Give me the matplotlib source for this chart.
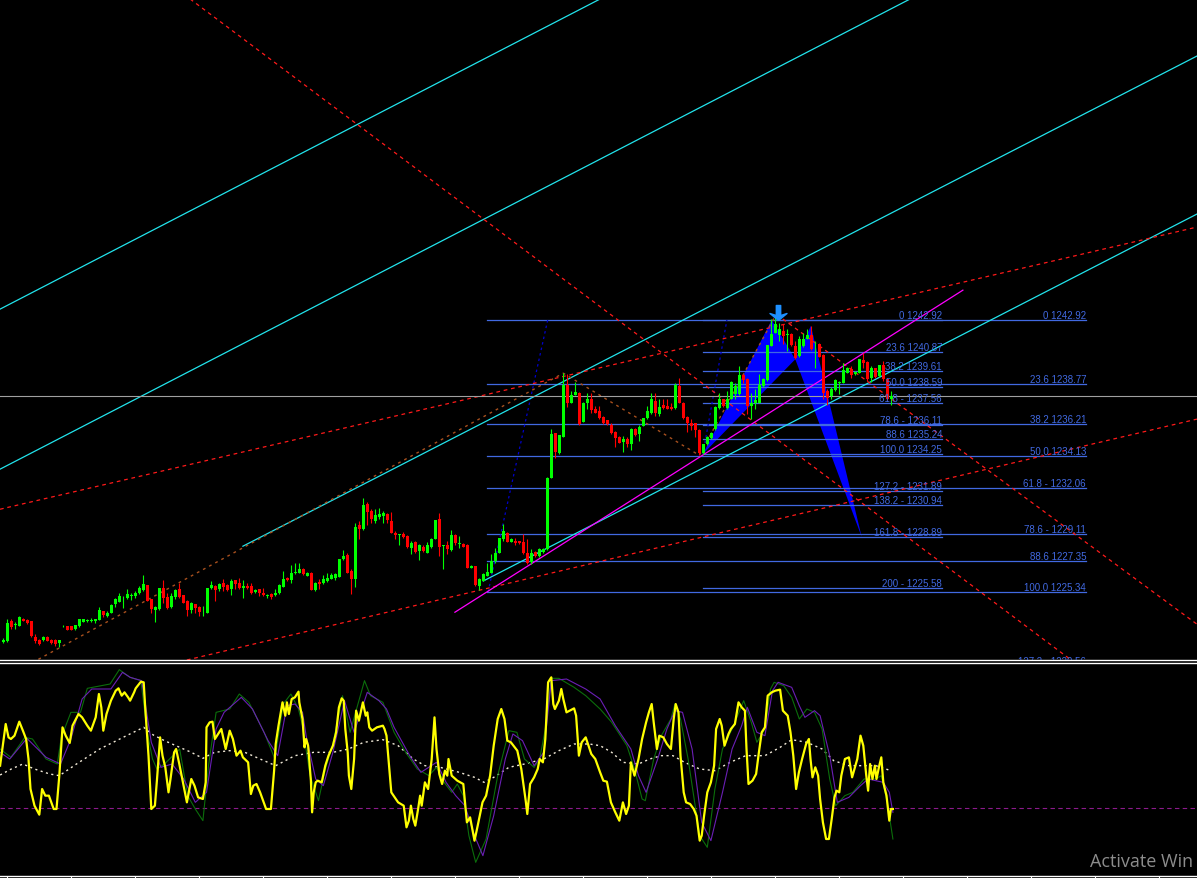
import numpy as np
import matplotlib
matplotlib.use('Agg')
import matplotlib.pyplot as plt
from matplotlib.path import Path

# ---- candle data (bar index = position from left) ----
opens = [1222.11, 1222.15, 1223.43, 1223.21, 1223.12, 1223.60, 1223.49, 1223.43, 1222.45, 1222.20,
         1222.22, 1222.45, 1222.24, 1222.20, 1222.00, 1223.10, 1223.10, 1223.10, 1222.91, 1223.12,
         1223.38, 1223.47, 1223.45, 1223.45, 1223.51, 1224.07, 1223.77, 1223.99, 1224.53, 1224.68,
         1224.98, 1224.96, 1225.09, 1225.07, 1225.24, 1225.46, 1225.76, 1224.85, 1224.16, 1224.20,
         1225.61, 1225.00, 1224.33, 1225.02, 1225.52, 1225.11, 1224.72, 1224.16, 1224.53, 1224.38,
         1224.07, 1223.99, 1225.56, 1225.74, 1225.50, 1225.93, 1225.76, 1225.50, 1226.08, 1225.93,
         1225.56, 1225.74, 1225.74, 1225.33, 1225.50, 1225.28, 1225.09, 1225.18, 1225.11, 1225.24,
         1225.67, 1226.26, 1226.08, 1226.56, 1226.58, 1226.84, 1226.36, 1226.58, 1225.46, 1225.98,
         1225.89, 1226.04, 1226.19, 1226.26, 1226.32, 1227.44, 1227.70, 1226.69, 1226.15, 1229.65,
         1229.39, 1231.01, 1230.58, 1229.93, 1230.19, 1230.25, 1230.36, 1229.93, 1229.17, 1229.00,
         1229.06, 1228.96, 1228.20, 1228.57, 1227.98, 1228.26, 1227.88, 1228.26, 1228.78, 1230.04,
         1228.29, 1228.35, 1228.03, 1228.99, 1228.45, 1228.45, 1228.40, 1226.89, 1227.00, 1225.70,
         1226.03, 1226.39, 1226.57, 1227.32, 1227.86, 1228.73, 1229.16, 1228.55, 1228.62, 1228.62,
         1228.58, 1227.82, 1227.26, 1227.91, 1227.65, 1227.91, 1228.08, 1232.72, 1235.59, 1234.30,
         1235.38, 1238.71, 1237.58, 1238.06, 1238.23, 1236.33, 1237.54, 1237.80, 1237.19, 1237.04,
         1236.67, 1236.44, 1236.13, 1235.70, 1235.38, 1235.03, 1235.21, 1234.88, 1235.85, 1235.53,
         1236.07, 1236.55, 1236.89, 1237.69, 1236.83, 1237.41, 1237.37, 1237.32, 1237.26, 1238.62,
         1237.58, 1236.67, 1236.24, 1236.24, 1235.81, 1234.30, 1234.88, 1235.26, 1235.85, 1237.25,
         1237.79, 1237.25, 1237.83, 1238.11, 1238.11, 1239.35, 1239.13, 1237.36, 1237.53, 1237.57,
         1238.65, 1239.04, 1241.25, 1242.11, 1241.94, 1242.22, 1241.98, 1242.00, 1241.25, 1240.60,
         1241.25, 1241.72, 1241.94, 1241.22, 1241.35, 1240.64, 1238.33, 1238.01, 1238.39, 1238.85,
         1238.87, 1239.52, 1239.78, 1239.41, 1239.52, 1240.34, 1240.21, 1239.19, 1239.84, 1239.30,
         1239.99, 1239.09, 1237.79]
highs = [1222.37, 1223.60, 1223.56, 1223.38, 1223.77, 1223.64, 1223.56, 1223.45, 1222.58, 1222.26,
         1222.48, 1222.48, 1222.30, 1222.30, 1222.22, 1223.19, 1223.12, 1223.12, 1223.19, 1223.58,
         1223.58, 1223.60, 1223.66, 1223.58, 1224.38, 1224.12, 1224.07, 1224.53, 1224.96, 1225.24,
         1225.07, 1225.50, 1225.26, 1225.39, 1225.72, 1226.41, 1225.78, 1224.87, 1224.42, 1225.59,
         1226.08, 1225.28, 1225.24, 1225.54, 1225.89, 1225.13, 1224.79, 1224.68, 1224.57, 1224.42,
         1224.42, 1225.59, 1226.02, 1225.78, 1225.93, 1226.19, 1225.82, 1226.15, 1226.10, 1226.23,
         1226.08, 1225.93, 1225.89, 1225.54, 1225.52, 1225.61, 1225.22, 1225.28, 1225.50, 1225.82,
         1226.69, 1226.32, 1227.06, 1227.23, 1227.23, 1226.90, 1226.60, 1226.60, 1225.98, 1226.15,
         1226.41, 1226.54, 1226.58, 1226.58, 1227.47, 1228.03, 1227.83, 1226.80, 1229.82, 1229.93,
         1231.44, 1231.12, 1230.68, 1230.68, 1230.79, 1230.58, 1230.42, 1230.53, 1229.28, 1229.06,
         1229.22, 1229.00, 1228.63, 1228.63, 1228.42, 1228.35, 1228.57, 1228.85, 1229.99, 1230.42,
         1228.35, 1228.63, 1229.37, 1229.05, 1228.94, 1228.51, 1228.45, 1227.08, 1227.02, 1226.24,
         1226.57, 1227.21, 1227.80, 1228.19, 1228.81, 1229.70, 1229.20, 1228.83, 1228.83, 1228.64,
         1229.11, 1228.73, 1228.08, 1227.97, 1228.19, 1228.16, 1232.79, 1235.85, 1235.62, 1235.51,
         1239.48, 1239.42, 1238.34, 1238.88, 1238.27, 1237.60, 1238.23, 1238.23, 1237.37, 1237.37,
         1236.72, 1236.46, 1236.29, 1235.75, 1235.40, 1235.42, 1235.38, 1235.96, 1235.96, 1236.13,
         1236.59, 1237.37, 1238.23, 1238.23, 1237.80, 1237.80, 1237.80, 1237.58, 1238.83, 1239.20,
         1237.63, 1236.72, 1236.50, 1236.29, 1235.85, 1234.93, 1235.42, 1235.67, 1237.36, 1238.22,
         1237.83, 1238.33, 1238.96, 1238.87, 1239.95, 1239.41, 1239.19, 1238.22, 1238.44, 1239.41,
         1239.19, 1241.33, 1242.97, 1243.19, 1242.71, 1242.65, 1242.33, 1242.11, 1241.57, 1241.89,
         1242.11, 1242.33, 1242.54, 1241.57, 1241.40, 1240.71, 1238.44, 1238.61, 1239.09, 1238.98,
         1240.17, 1239.88, 1239.95, 1239.63, 1240.42, 1240.81, 1240.27, 1239.95, 1239.84, 1240.04,
         1240.27, 1239.13, 1238.33]
lows = [1222.04, 1222.11, 1222.95, 1222.95, 1223.10, 1223.43, 1223.25, 1222.43, 1222.04, 1221.91,
        1222.15, 1222.13, 1221.94, 1221.83, 1221.76, 1223.06, 1222.86, 1222.84, 1222.89, 1223.08,
        1223.36, 1223.38, 1223.38, 1223.30, 1223.49, 1223.73, 1223.73, 1223.97, 1224.38, 1224.68,
        1224.29, 1224.85, 1224.79, 1224.96, 1225.18, 1225.39, 1224.72, 1223.94, 1223.38, 1224.16,
        1224.64, 1224.25, 1224.31, 1224.85, 1224.96, 1224.61, 1223.77, 1223.94, 1223.94, 1223.77,
        1223.77, 1223.97, 1225.54, 1224.74, 1225.39, 1225.39, 1225.39, 1225.11, 1225.50, 1225.54,
        1224.96, 1225.50, 1225.18, 1225.24, 1225.07, 1225.07, 1224.96, 1224.85, 1225.07, 1225.18,
        1225.65, 1226.04, 1225.93, 1226.47, 1226.54, 1226.41, 1226.34, 1225.44, 1225.39, 1225.50,
        1225.82, 1225.98, 1226.15, 1226.10, 1226.30, 1227.42, 1226.54, 1225.18, 1225.65, 1228.74,
        1229.37, 1229.65, 1229.82, 1229.82, 1230.04, 1229.82, 1229.82, 1229.15, 1228.74, 1228.37,
        1228.85, 1228.20, 1227.77, 1227.88, 1227.40, 1227.92, 1227.83, 1228.20, 1228.76, 1227.66,
        1226.80, 1227.77, 1227.97, 1228.40, 1228.19, 1228.23, 1226.87, 1226.87, 1225.72, 1225.44,
        1226.01, 1226.35, 1226.55, 1227.21, 1227.82, 1228.62, 1228.53, 1228.53, 1228.40, 1228.45,
        1227.80, 1227.17, 1227.17, 1227.60, 1227.60, 1227.86, 1228.03, 1232.70, 1234.02, 1234.26,
        1235.36, 1237.32, 1237.54, 1238.04, 1236.16, 1236.31, 1237.15, 1236.89, 1236.89, 1236.50,
        1236.22, 1236.16, 1235.57, 1234.73, 1234.95, 1234.39, 1234.73, 1234.51, 1235.42, 1235.10,
        1236.05, 1236.50, 1236.83, 1236.72, 1236.72, 1237.15, 1237.15, 1237.11, 1237.19, 1237.54,
        1236.50, 1235.68, 1235.81, 1235.38, 1234.17, 1234.26, 1234.84, 1235.24, 1235.80, 1237.14,
        1237.31, 1237.14, 1237.81, 1237.79, 1238.09, 1238.87, 1236.82, 1236.49, 1237.14, 1237.53,
        1238.61, 1239.00, 1241.22, 1242.09, 1241.57, 1241.35, 1240.92, 1241.25, 1240.38, 1240.55,
        1241.20, 1241.68, 1240.99, 1239.84, 1240.51, 1237.79, 1237.40, 1237.79, 1238.33, 1238.11,
        1238.83, 1239.48, 1239.19, 1239.37, 1239.48, 1239.84, 1238.98, 1238.91, 1239.19, 1239.26,
        1238.98, 1237.75, 1237.40]
closes = [1222.20, 1223.34, 1223.08, 1223.25, 1223.69, 1223.45, 1223.30, 1222.48, 1222.15, 1221.94,
          1222.41, 1222.15, 1222.04, 1221.94, 1222.20, 1223.15, 1222.89, 1222.86, 1223.17, 1223.56,
          1223.56, 1223.51, 1223.49, 1223.56, 1224.16, 1223.82, 1223.99, 1224.51, 1224.85, 1225.07,
          1225.02, 1225.18, 1225.13, 1225.28, 1225.56, 1225.82, 1224.74, 1224.25, 1224.36, 1225.56,
          1224.96, 1224.27, 1225.05, 1225.46, 1225.00, 1224.64, 1224.16, 1224.61, 1224.31, 1224.03,
          1224.12, 1225.56, 1225.76, 1225.44, 1225.85, 1225.67, 1225.46, 1226.02, 1225.82, 1225.61,
          1225.74, 1225.61, 1225.28, 1225.44, 1225.24, 1225.13, 1225.13, 1225.02, 1225.28, 1225.76,
          1226.19, 1226.10, 1226.58, 1226.60, 1226.84, 1226.47, 1226.58, 1225.46, 1225.93, 1225.82,
          1226.15, 1226.26, 1226.41, 1226.47, 1227.44, 1227.66, 1226.58, 1226.19, 1229.50, 1229.39,
          1230.94, 1230.47, 1230.04, 1230.30, 1230.38, 1230.42, 1229.97, 1229.17, 1229.00, 1229.04,
          1228.91, 1228.26, 1228.52, 1227.92, 1228.35, 1227.98, 1228.35, 1228.78, 1229.97, 1228.26,
          1228.33, 1228.14, 1228.99, 1228.47, 1228.49, 1228.25, 1226.89, 1227.04, 1225.75, 1226.20,
          1226.52, 1226.61, 1227.32, 1227.86, 1228.79, 1229.27, 1228.55, 1228.73, 1228.51, 1228.47,
          1227.82, 1227.21, 1227.82, 1227.65, 1228.12, 1228.12, 1232.72, 1235.53, 1234.39, 1235.47,
          1238.71, 1237.58, 1238.06, 1238.27, 1236.18, 1237.58, 1237.84, 1237.11, 1236.93, 1236.55,
          1236.24, 1236.18, 1235.59, 1235.31, 1234.99, 1235.25, 1234.88, 1235.85, 1235.47, 1236.03,
          1236.55, 1237.04, 1237.80, 1236.93, 1237.32, 1237.26, 1237.19, 1237.15, 1238.71, 1237.58,
          1236.55, 1236.24, 1236.07, 1235.81, 1234.34, 1234.88, 1235.38, 1235.63, 1237.31, 1237.83,
          1237.36, 1237.83, 1238.91, 1238.65, 1239.35, 1239.04, 1237.36, 1237.57, 1237.73, 1238.70,
          1239.09, 1241.29, 1242.00, 1242.65, 1242.33, 1241.89, 1242.02, 1241.29, 1240.49, 1241.72,
          1241.72, 1241.94, 1241.03, 1241.27, 1240.55, 1238.22, 1237.90, 1238.48, 1239.02, 1238.89,
          1239.69, 1239.84, 1239.35, 1239.56, 1240.38, 1240.17, 1239.13, 1239.84, 1239.26, 1239.99,
          1239.09, 1237.79, 1238.01]

# ---- fibonacci retracements ----
fib1_levels = ['0', '23.6', '38.2', '50.0', '61.8 -', '78.6 -', '88.6', '100.0', '127.2 -', '138.2 -', '161.8 -', '200 -']
fib1_prices = [1242.92, 1240.87, 1239.61, 1238.59, 1237.56, 1236.11, 1235.24, 1234.25, 1231.89, 1230.94, 1228.89, 1225.58]
fib1_span = (174.9, 234.7)
fib1_anchor = ([174.9, 180.9], [1234.25, 1242.92])

fib2_levels = ['0', '23.6', '38.2', '50.0', '61.8 -', '78.6 -', '88.6', '100.0', '127.2 -']
fib2_prices = [1242.92, 1238.77, 1236.21, 1234.13, 1232.06, 1229.11, 1227.35, 1225.34, 1220.56]
fib2_span = (120.9, 270.7)
fib2_anchor = ([121.2, 136.1], [1225.34, 1242.92])

# ---- harmonic pattern points X A B C D ----
pat_x = [174.9, 192.1, 198.0, 201.9, 214.6]
pat_p = [1234.25, 1242.92, 1240.38, 1242.54, 1228.89]

# ---- trend lines: two anchor points (bar, price) ----
cyan_full = [((-0.83, 1243.62), (149.2, 1263.68)),
             ((-0.83, 1233.27), (226.7, 1263.68))]
cyan_rays = [((59.9, 1228.29), (298.4, 1259.99)),
             ((120.0, 1226.04), (298.4, 1249.77))]
red_full = [((46.7, 1263.68), (266.7, 1220.98)),
            ((-0.83, 1230.68), (298.4, 1248.93)),
            ((46.7, 1220.98), (298.4, 1236.51))]
red_rays = [((194.9, 1242.98), (297.4, 1223.44))]
magenta_seg = ([112.9, 239.9], [1224.02, 1244.85])
zigzag_x = [4.2, 140, 174, 193]
zigzag_p = [1220.33, 1239.48, 1234.17, 1243.19]
arrow_bar = 193.7

# ---- oscillator window ----
yellow_x = [-0.8, 0.6, 1.3, 1.9, 2.8, 4.0, 4.9, 5.7, 6.3, 6.8, 7.8, 9.0, 9.7, 10.5, 11.4, 12.6, 13.3, 14.0, 14.8,
            15.6, 16.6, 17.3, 18.8, 19.7, 21.0, 21.9, 23.1, 23.9, 24.5, 25.0, 25.8, 26.9, 28.1, 28.8, 29.6, 30.3,
            31.2, 31.7, 32.7, 33.1, 34.4, 35.1, 35.5, 36.3, 37.0, 37.9, 38.4, 39.2, 39.8, 40.5, 41.3, 41.8, 42.7,
            43.2, 44.0, 44.9, 45.9, 47.0, 47.8, 48.7, 49.9, 50.6, 50.8, 51.6, 52.3, 52.9, 53.7, 54.5, 55.6, 56.6,
            57.4, 58.3, 59.3, 59.9, 61.2, 61.9, 62.5, 63.3, 64.2, 65.7, 66.9, 67.7, 68.1, 68.8, 69.8, 70.5, 70.9,
            71.4, 72.1, 72.9, 73.8, 74.0, 74.8, 75.3, 75.7, 76.2, 76.9, 77.2, 77.6, 78.1, 78.6, 79.6, 80.5, 81.3,
            82.4, 83.2, 83.9, 84.6, 85.1, 85.5, 86.1, 86.4, 87.0, 87.7, 88.2, 88.9, 89.9, 90.6, 91.0, 91.5, 92.2,
            93.4, 94.9, 95.3, 95.8, 97.0, 98.7, 100.1, 100.8, 101.4, 101.9, 102.5, 103.0, 103.7, 104.2, 104.6,
            105.4, 106.2, 107.1, 107.8, 108.3, 109.0, 109.7, 110.4, 111.0, 111.3, 112.1, 113.5, 115.0, 115.9,
            116.7, 117.8, 118.6, 119.8, 120.7, 121.7, 122.6, 123.6, 124.5, 125.3, 126.0, 126.9, 128.5, 129.5,
            130.6, 131.0, 131.7, 132.7, 133.6, 134.1, 134.9, 135.5, 136.2, 137.0, 137.5, 137.9, 138.9, 139.5,
            140.0, 140.8, 142.7, 143.2, 143.9, 144.6, 145.6, 147.0, 148.0, 149.2, 150.0, 150.9, 151.9, 153.0,
            154.0, 154.9, 155.7, 156.4, 156.9, 157.8, 158.8, 159.7, 160.7, 161.4, 162.1, 162.6, 163.4, 164.0,
            165.0, 165.9, 166.9, 167.6, 168.1, 168.8, 169.3, 170.1, 170.7, 171.7, 172.6, 173.3, 174.1, 174.6,
            175.2, 176.0, 176.9, 177.7, 178.2, 179.1, 179.6, 180.3, 181.3, 181.9, 182.9, 183.8, 184.6, 185.4,
            185.8, 186.3, 187.3, 188.2, 188.9, 189.6, 190.4, 191.1, 192.1, 193.0, 194.2, 194.9, 196.1, 196.8,
            197.5, 198.2, 198.9, 199.7, 200.7, 201.4, 201.8, 202.3, 203.0, 203.7, 204.2, 204.9, 205.7, 206.4,
            207.1, 207.8, 208.3, 209.0, 209.5, 210.4, 211.4, 212.2, 212.8, 213.5, 214.3, 215.0, 215.7, 216.2,
            216.7, 217.3, 217.9, 218.3, 218.9, 219.5, 220.0, 220.8, 221.5, 221.9, 222.4]
yellow_v = [45.6, 70.6, 62.6, 61.6, 63.6, 72.0, 66.6, 61.6, 49.6, 31.6, 21.6, 16.2, 31.6, 27.6, 27.6, 19.6, 19.6, 39.6, 68.6,
            63.6, 59.2, 69.6, 76.6, 74.6, 69.6, 66.6, 74.6, 88.6, 80.6, 66.6, 76.6, 84.6, 90.6, 92.0, 87.6, 89.6,
            86.6, 84.6, 89.6, 92.0, 96.0, 95.6, 79.6, 51.6, 19.6, 21.6, 36.6, 62.6, 51.6, 44.6, 29.6, 37.6, 53.6,
            55.6, 46.6, 35.6, 23.6, 37.6, 33.6, 26.6, 25.6, 35.6, 68.6, 71.6, 72.0, 61.6, 64.6, 67.6, 55.6, 66.6,
            61.6, 51.6, 54.6, 50.6, 47.6, 28.6, 33.6, 34.6, 29.6, 19.6, 19.6, 42.6, 58.6, 69.6, 83.6, 75.6, 83.6,
            76.6, 85.6, 86.6, 90.0, 83.6, 73.6, 56.6, 61.6, 57.6, 36.6, 17.6, 29.6, 35.6, 36.6, 35.6, 45.6, 51.6,
            57.6, 65.6, 80.6, 86.0, 84.6, 67.6, 53.6, 39.6, 31.6, 49.6, 78.6, 72.6, 83.6, 75.6, 77.6, 68.6, 66.6,
            68.6, 69.6, 67.6, 63.6, 29.6, 23.6, 21.6, 8.6, 12.6, 21.6, 13.6, 9.6, 19.6, 27.6, 21.6,
            35.6, 31.6, 49.6, 74.6, 55.6, 40.6, 34.6, 42.6, 39.6, 49.6, 39.6, 36.6, 34.6, 11.6,
            14.6, 0.6, 9.6, 23.6, 27.6, 39.6, 57.6, 73.6, 79.6, 73.6, 60.6, 59.6, 54.6, 43.6,
            24.6, 16.6, 34.6, 38.6, 43.6, 49.6, 47.6, 61.6, 95.6, 98.6, 82.6, 79.6, 84.6, 91.6,
            85.6, 77.6, 80.0, 75.6, 51.6, 59.6, 62.6, 52.6, 49.6, 41.6, 36.6, 36.0, 23.6, 17.6,
            12.6, 23.6, 16.6, 21.6, 47.6, 39.6, 49.6, 61.6, 71.6, 77.6, 82.6, 71.6, 55.6, 63.6,
            62.6, 58.6, 55.6, 73.6, 82.6, 77.6, 51.6, 29.6, 23.6, 22.6, 19.6, 15.6, 0.6, 3.6,
            15.6, 29.6, 35.6, 45.6, 67.6, 73.6, 69.6, 57.6, 64.6, 67.6, 70.6, 83.6, 80.6, 78.6,
            55.6, 34.6, 36.6, 40.6, 53.6, 65.6, 68.6, 87.6, 89.6, 90.6, 91.2, 78.6, 75.6, 65.6,
            51.6, 31.6, 41.6, 49.6, 58.6, 61.6, 49.6, 38.6, 44.6, 39.6, 25.6, 11.6, 1.6, 1.6,
            13.6, 26.6, 30.6, 29.6, 39.6, 49.6, 50.6, 38.6, 43.6, 49.6, 63.6, 57.6, 40.6, 30.6,
            46.6, 37.6, 45.6, 37.6, 44.6, 50.6, 35.6, 27.6, 12.6, 19.6, 19.6]

green_x = [-0.8, 1.9, 5.4, 7.3, 10.7, 13.5, 14.5, 16.9, 19.3, 21.0, 26.7, 29.0, 31.7, 34.4, 36.0, 37.3, 38.4, 40.3,
           44.1, 46.1, 48.0, 49.9, 51.3, 53.2, 56.6, 59.0, 61.4, 65.2, 67.9, 70.0, 71.9, 73.8, 74.8, 76.7, 78.8,
           80.5, 82.4, 84.8, 86.7, 88.2, 90.3, 91.8, 94.9, 97.7, 100.6, 103.5, 106.4, 108.3, 110.2, 112.1, 113.5,
           115.0, 116.4, 118.1, 120.7, 123.6, 126.4, 128.4, 130.3, 132.7, 134.1, 135.5, 137.0, 138.9, 142.7,
           145.6, 149.2, 152.1, 155.9, 157.8, 159.7, 160.5, 162.6, 164.5, 166.9, 167.9, 169.3, 171.2, 174.1,
           176.0, 177.9, 179.8, 182.2, 185.1, 187.0, 188.4, 190.4, 191.8, 192.7, 195.1, 197.1, 199.0, 200.9,
           202.8, 204.7, 206.6, 208.1, 210.4, 212.4, 215.2, 218.1, 219.5, 221.0, 222.4]
green_v = [55.6, 50.6, 62.6, 61.6, 49.6, 46.6, 62.6, 77.6, 77.6, 92.0, 94.6, 103.2, 98.6, 96.6, 65.6, 49.6, 43.6, 46.6,
           55.6, 27.6, 19.6, 12.6, 45.6, 77.6, 79.6, 88.6, 83.6, 65.6, 49.6, 82.6, 88.6, 79.6, 69.6, 39.6, 24.6,
           43.6, 58.6, 87.6, 65.6, 78.6, 96.6, 87.6, 83.6, 65.6, 53.6, 43.6, 39.6, 44.6, 35.6, 29.6, 34.6,
           27.6, 3.6, -12.4, 1.6, 39.6, 66.6, 65.6, 49.6, 44.6, 49.6, 67.6, 98.0, 98.0, 92.6,
           87.6, 79.6, 71.6, 57.6, 43.6, 25.6, 24.6, 49.6, 63.6, 73.6, 82.6, 73.6, 49.6, 3.6,
           -3.4, 31.6, 55.6, 67.6, 84.6, 71.6, 59.6, 67.6, 91.6, 95.6, 93.6, 86.6, 73.6, 79.6,
           77.6, 67.6, 37.6, 21.6, 27.6, 29.6, 37.6, 37.6, 39.6, 23.6, 1.6]

purple_x = [-0.8, 1.6, 5.9, 10.7, 14.3, 16.9, 19.7, 22.1, 26.9, 29.8, 31.7, 34.6, 37.0, 39.4, 42.2, 45.1, 48.0, 50.8,
            53.2, 55.2, 59.5, 62.3, 66.2, 68.6, 70.9, 72.9, 74.8, 75.7, 78.1, 80.0, 82.4, 85.3, 87.7, 91.0, 93.9,
            95.8, 97.7, 101.6, 104.4, 108.3, 110.7, 113.1, 115.4, 117.8, 119.9, 122.6, 125.5, 127.4, 129.8, 132.7,
            135.1, 137.0, 140.8, 145.6, 149.2, 153.0, 156.9, 158.8, 160.7, 163.6, 165.9, 167.9, 169.8, 172.2,
            174.6, 176.9, 179.8, 182.2, 184.6, 186.0, 188.4, 190.4, 192.3, 193.7, 197.1, 199.0, 200.4, 202.8,
            204.2, 206.6, 208.5, 211.4, 214.3, 216.2, 220.0, 221.5, 222.4]
purple_v = [53.6, 49.6, 62.0, 50.6, 46.6, 61.6, 85.6, 91.6, 91.6, 101.6, 98.6, 96.6, 59.6, 44.6, 46.6, 37.6, 23.6, 29.6,
            67.6, 77.6, 86.6, 79.6, 60.6, 51.6, 81.6, 82.6, 77.6, 63.6, 37.6, 33.6, 53.6, 84.6, 65.6, 89.6, 84.6,
            79.6, 68.6, 51.6, 41.6, 47.6, 35.6, 27.6, 21.6, 3.6, -8.4, 15.6, 49.6, 64.6, 60.6, 45.6,
            53.6, 96.6, 97.6, 91.6, 85.6, 69.6, 55.6, 39.6, 29.6, 49.6, 67.6, 78.6, 77.6, 55.6,
            11.6, 0.6, 29.6, 55.6, 69.6, 80.6, 65.6, 63.6, 90.6, 95.6, 92.6, 81.6, 74.6, 78.6,
            75.6, 51.6, 23.6, 26.6, 33.6, 37.6, 35.6, 29.6, 17.6]

white_x = [-0.8, 2.0, 4.9, 7.8, 11.6, 14.0, 18.3, 24.1, 30.8, 35.1, 37.5, 40.3, 44.1, 47.0, 49.9, 52.8, 56.6, 60.4,
           64.2, 68.1, 72.9, 77.6, 82.4, 86.3, 90.1, 94.9, 98.7, 102.5, 105.4, 109.2, 114.0, 117.8, 120.2, 122.6,
           126.4, 130.3, 135.1, 138.9, 142.7, 146.5, 149.2, 152.1, 154.9, 158.8, 161.6, 164.5, 167.4, 170.3,
           174.1, 177.9, 181.7, 185.6, 190.4, 194.2, 197.1, 200.9, 204.7, 207.6, 211.4, 215.2, 218.1, 221.9]
white_v = [40.0, 43.6, 46.6, 43.6, 40.6, 39.6, 46.6, 55.6, 63.6, 68.6, 64.0, 60.6, 56.6, 53.6, 50.0, 53.6, 54.6, 53.6,
           49.6, 45.6, 51.6, 53.6, 53.6, 55.6, 59.6, 61.2, 57.6, 49.6, 45.6, 44.6, 41.6, 38.6, 35.6, 38.6,
           44.6, 46.6, 49.6, 54.6, 58.6, 58.6, 57.6, 53.6, 47.6, 46.6, 49.6, 51.6, 51.6, 47.6,
           43.6, 42.6, 47.6, 51.6, 51.6, 56.6, 61.2, 59.6, 55.6, 48.6, 45.6, 45.6, 45.6, 42.6]
osc_level = 20


def ray(p0, p1, x_end=300.0):
    slope = (p1[1] - p0[1]) / (p1[0] - p0[0])
    return [p0[0], x_end], [p0[1], p0[1] + slope * (x_end - p0[0])]


XMIN, XMAX = -0.825, 298.425
red_dash = (0, (3, 3))

fig = plt.figure(figsize=(11.97, 8.79), dpi=100, facecolor='black')
ax = fig.add_axes([0, 0.2480, 1, 0.7520])
ax.set_facecolor('black')
ax.set_xlim(XMIN, XMAX)
ax.set_ylim(1220.93, 1263.68)
ax.set_xticks([])
ax.set_yticks([])
for s in ['top', 'left', 'right']:
    ax.spines[s].set_visible(False)
ax.spines['bottom'].set_color('white')
ax.spines['bottom'].set_linewidth(1.0)

# harmonic pattern (XAB and BCD triangles)
ax.fill(pat_x[0:3], pat_p[0:3], color='#0000ff', lw=0, zorder=1)
ax.fill(pat_x[2:5], pat_p[2:5], color='#0000ff', lw=0, zorder=1)

# fib levels
for lvl, p in zip(fib2_levels, fib2_prices):
    ax.plot(fib2_span, [p, p], color='#4169e1', lw=0.9, zorder=2)
    ax.text(fib2_span[1], p, f'{lvl} {p:.2f}', color='#4169e1', fontsize=7,
            family='Liberation Sans', ha='right', va='bottom', clip_on=True, zorder=5)
for lvl, p in zip(fib1_levels, fib1_prices):
    ax.plot(fib1_span, [p, p], color='#4169e1', lw=0.9, zorder=2)
    ax.text(fib1_span[1], p, f'{lvl} {p:.2f}', color='#4169e1', fontsize=7,
            family='Liberation Sans', ha='right', va='bottom', clip_on=True, zorder=5)
ax.plot(*fib1_anchor, color='#0000cd', lw=0.9, ls=(0, (2, 2.5)), zorder=2)
ax.plot(*fib2_anchor, color='#0000cd', lw=0.9, ls=(0, (2, 2.5)), zorder=2)

# channel and trend lines
for p0, p1 in cyan_full:
    ax.axline(p0, p1, color='#22e4ec', lw=0.9, zorder=2)
for p0, p1 in cyan_rays:
    ax.plot(*ray(p0, p1), color='#22e4ec', lw=0.9, zorder=2)
for p0, p1 in red_full:
    ax.axline(p0, p1, color='#ff1a1a', lw=0.9, ls=red_dash, zorder=2)
for p0, p1 in red_rays:
    ax.plot(*ray(p0, p1), color='#ff1a1a', lw=0.9, ls=red_dash, zorder=2)
ax.plot(*magenta_seg, color='#ff00ff', lw=0.9, zorder=2)
ax.plot(zigzag_x, zigzag_p, color='#a8501e', lw=1.0, ls=(0, (2, 3)), zorder=2)

# bid line
ax.axhline(closes[-1], color='#a0a0a0', lw=0.8, zorder=2)

# candles
o = np.array(opens)
h = np.array(highs)
l = np.array(lows)
c = np.array(closes)
xs = np.arange(len(c))
cols = np.where(c >= o, '#00ff00', '#ff0000')
ax.vlines(xs, l, h, colors=cols, lw=0.8, zorder=3)
ax.bar(xs, np.maximum(np.abs(c - o), 0.05), bottom=np.minimum(o, c), width=0.75,
       color=cols, linewidth=0, zorder=3)

# down arrow over point A
arrow = Path([(0, 0), (8.5, 7), (2.2, 5), (2.2, 15), (-2.2, 15), (-2.2, 5), (-8.5, 7), (0, 0)])
ax.plot([arrow_bar], [pat_p[1]], marker=arrow, markersize=21.6, color='#1e90ff', zorder=4)

# ---- oscillator panel ----
ax2 = fig.add_axes([0, 0.002275, 1, 0.24232])
ax2.set_facecolor('black')
ax2.set_xlim(XMIN, XMAX)
ax2.set_ylim(-20.6, 107.2)
for s in ['left', 'right']:
    ax2.spines[s].set_visible(False)
for s in ['top', 'bottom']:
    ax2.spines[s].set_color('white')
    ax2.spines[s].set_linewidth(1.0)
ax2.set_yticks([])
ax2.set_xticks(np.arange(1, 299, 16))
ax2.tick_params(axis='x', direction='out', length=2, width=0.8, color='white', labelbottom=False)

ax2.axhline(osc_level, color='#8b1a8b', lw=0.8, ls=(0, (4, 3)))
ax2.plot(white_x, white_v, color='#f2ead8', lw=1.0, ls=(0, (1.5, 2.5)))
ax2.plot(green_x, green_v, color='#0b6e0b', lw=0.8)
ax2.plot(purple_x, purple_v, color='#6a1fb5', lw=0.8)
ax2.plot(yellow_x, yellow_v, color='#ffff00', lw=1.6)

# watermark, shown cut at the right edge in the reference
fig.text(1090 / 1197, 12 / 879, 'Activate Win', color='#8c8c8c', fontsize=13,
         family='Open Sans', ha='left', va='baseline')

fig.savefig('out.png', dpi=100, facecolor='black')
